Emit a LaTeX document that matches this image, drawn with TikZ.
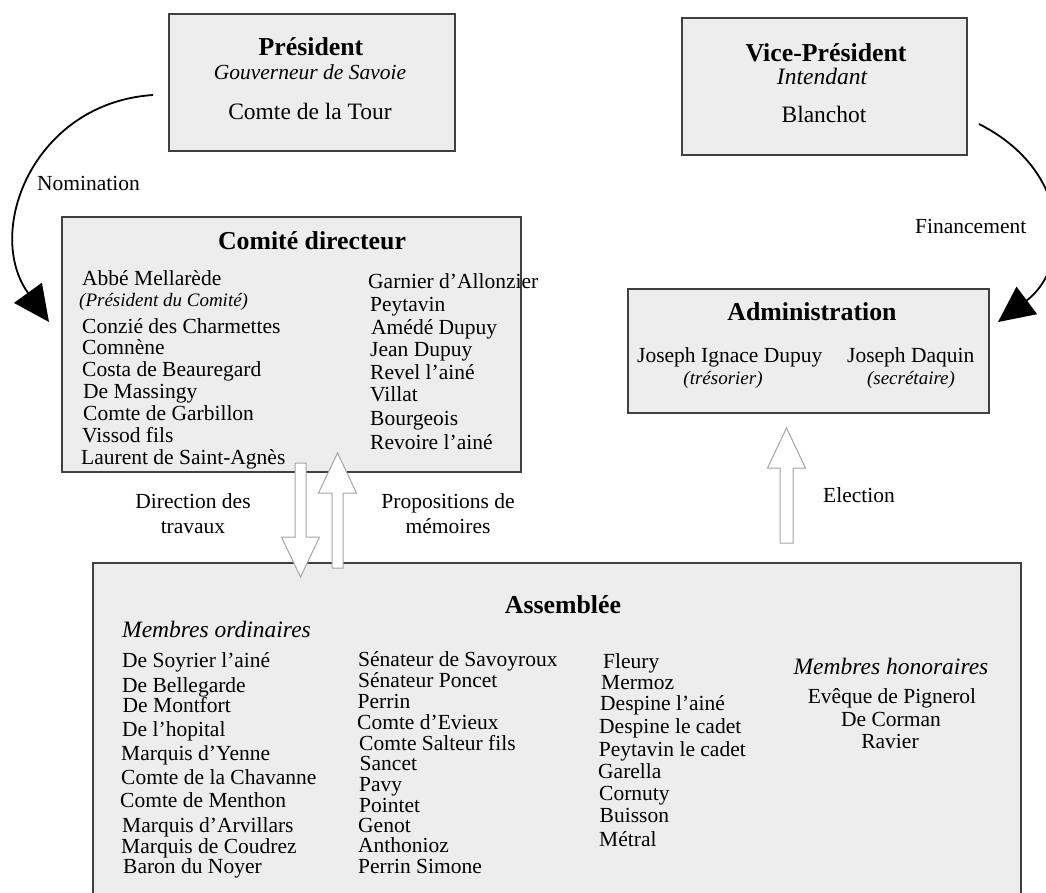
\documentclass[tikz,border=0pt]{standalone}
\usepackage{fontspec}
\setmainfont{Liberation Serif}
\usetikzlibrary{arrows.meta}
\definecolor{boxfill}{RGB}{237,237,237}
\definecolor{boxline}{RGB}{64,64,64}
\definecolor{arrgray}{RGB}{165,165,165}
\newcommand\fbody{\fontsize{21.5pt}{25pt}\selectfont}
\newcommand\fname{\fontsize{23.5pt}{27pt}\selectfont}
\newcommand\ftitle{\fontsize{25.8pt}{30pt}\selectfont\bfseries}
\newcommand\fsmall{\fontsize{19pt}{22pt}\selectfont\itshape}
\begin{document}
\begin{tikzpicture}[x=1pt,y=-1pt,
  box/.style={draw=boxline, fill=boxfill, line width=1.5pt, inner sep=0pt, outer sep=0pt},
  tl/.style={inner sep=0pt, anchor=base west, font=\fbody},
  tc/.style={inner sep=0pt, anchor=base, font=\fbody},
  ttl/.style={inner sep=0pt, anchor=base, font=\ftitle},
  tname/.style={inner sep=0pt, anchor=base, font=\fname},
  tsm/.style={inner sep=0pt, anchor=base, font=\fsmall},
  hollow/.style={draw=arrgray, fill=white, line width=1pt, line join=miter},
  curv/.style={draw=black, line width=1.8pt, -{Triangle[length=36pt,width=34pt]}}]
\useasboundingbox (0,0) rectangle (1046,892);
\clip (0,0) rectangle (1046,892);

% boxes
\node[box, minimum width=286pt, minimum height=137pt] (pres) at (312,82.5) {};
\node[box, minimum width=285pt, minimum height=137pt] (vice) at (824.5,86.5) {};
\node[box, minimum width=459pt, minimum height=255pt] (comite) at (291.5,344.5) {};
\node[box, minimum width=361pt, minimum height=124pt] (admin) at (808.5,351) {};
\node[box, minimum width=928pt, minimum height=337pt] (assem) at (557,731.5) {};

% President
\node[ttl] (presT) at (311,55) {Président};
\node[tc, font=\fbody\itshape] (presS) at (310,79) {Gouverneur de Savoie};
\node[tname] (presN) at (310,119.5) {Comte de la Tour};

% Vice-President
\node[ttl] (viceT) at (826,61) {Vice-Président};
\node[tname, font=\fname\itshape] (viceS) at (822,84) {Intendant};
\node[tname] (viceN) at (824,122) {Blanchot};

% Comite directeur
\node[ttl] (comT) at (312,249) {Comité directeur};
\node[tl] (c1) at (82,285) {Abbé Mellarède};
\node[tl, font=\fsmall] (c2) at (79,306) {(Président du Comité)};
\node[tl] (c3) at (82,333) {Conzié des Charmettes};
\node[tl] (c4) at (82,354.5) {Comnène};
\node[tl] (c5) at (82,376) {Costa de Beauregard};
\node[tl] (c6) at (83,398) {De Massingy};
\node[tl] (c7) at (83,420) {Comte de Garbillon};
\node[tl] (c8) at (82,442) {Vissod fils};
\node[tl] (c9) at (81,464) {Laurent de Saint-Agnès};
\node[tl] (d1) at (368,288) {Garnier d’Allonzier};
\node[tl] (d2) at (370,311) {Peytavin};
\node[tl] (d3) at (371,334) {Amédé Dupuy};
\node[tl] (d4) at (370,356) {Jean Dupuy};
\node[tl] (d5) at (370,379) {Revel l’ainé};
\node[tl] (d6) at (370,401) {Villat};
\node[tl] (d7) at (370,425) {Bourgeois};
\node[tl] (d8) at (370,449) {Revoire l’ainé};

% Administration
\node[ttl] (admT) at (812,320) {Administration};
\node[tl] (a1) at (637,362) {Joseph Ignace Dupuy};
\node[tsm] (a1s) at (723,384) {(trésorier)};
\node[tl] (a2) at (847,362) {Joseph Daquin};
\node[tsm] (a2s) at (911,384) {(secrétaire)};

% Assemblee
\node[ttl] (asT) at (563,613) {Assemblée};
\node[tl, font=\fname\itshape] (mo) at (122,637) {Membres ordinaires};
\node[tl] (m1) at (122,667) {De Soyrier l’ainé};
\node[tl] (m2) at (122,692) {De Bellegarde};
\node[tl] (m3) at (122.5,712) {De Montfort};
\node[tl] (m4) at (122,736) {De l’hopital};
\node[tl] (m5) at (121,760) {Marquis d’Yenne};
\node[tl] (m6) at (121,784) {Comte de la Chavanne};
\node[tl] (m7) at (120,807) {Comte de Menthon};
\node[tl] (m8) at (122,832) {Marquis d’Arvillars};
\node[tl] (m9) at (121,853) {Marquis de Coudrez};
\node[tl] (m10) at (123,873) {Baron du Noyer};
\node[tl] (n1) at (358,666) {Sénateur de Savoyroux};
\node[tl] (n2) at (358,687) {Sénateur Poncet};
\node[tl] (n3) at (357.5,708) {Perrin};
\node[tl] (n4) at (357,729) {Comte d’Evieux};
\node[tl] (n5) at (359,750) {Comte Salteur fils};
\node[tl] (n6) at (359.5,770.5) {Sancet};
\node[tl] (n7) at (359,791) {Pavy};
\node[tl] (n8) at (359,812) {Pointet};
\node[tl] (n9) at (358,832) {Genot};
\node[tl] (n10) at (358,852.5) {Anthonioz};
\node[tl] (n11) at (358,873) {Perrin Simone};
\node[tl] (p1) at (603,668) {Fleury};
\node[tl] (p2) at (601,689) {Mermoz};
\node[tl] (p3) at (600,710) {Despine l’ainé};
\node[tl] (p4) at (599,733) {Despine le cadet};
\node[tl] (p5) at (598.7,756) {Peytavin le cadet};
\node[tl] (p6) at (598,778) {Garella};
\node[tl] (p7) at (599,800) {Cornuty};
\node[tl] (p8) at (599.5,822) {Buisson};
\node[tl] (p9) at (599,846) {Métral};
\node[tname, font=\fname\itshape] (mh) at (891,674) {Membres honoraires};
\node[tc] (h1) at (892,703) {Evêque de Pignerol};
\node[tc] (h2) at (891,726) {De Corman};
\node[tc] (h3) at (890,748) {Ravier};

% labels
\node[tl] (lnom) at (37,190) {Nomination};
\node[tl] (lfin) at (915,233) {Financement};
\node[tc] (ldir1) at (193,508) {Direction des};
\node[tc] (ldir2) at (193,533) {travaux};
\node[tc] (lprop1) at (448,508) {Propositions de};
\node[tc] (lprop2) at (448,533) {mémoires};
\node[tl] (lel) at (823,502) {Election};

% hollow arrows
\draw[hollow] (295,463) -- (306,463) -- (306,537) -- (319.5,537) -- (300.5,577) -- (281.5,537) -- (295,537) -- cycle;
\draw[hollow] (332,568) -- (343,568) -- (343,493) -- (356.5,493) -- (337.5,453) -- (318.5,493) -- (332,493) -- cycle;
\draw[hollow] (780,543) -- (793,543) -- (793,468) -- (805.5,468) -- (786.5,428) -- (767.5,468) -- (780,468) -- cycle;

% curved arrows
\draw[curv] ([shift={(-16,12.5)}]pres.west) .. controls +(-120,8) and +(-65,-90) .. ([shift={(-13,-22.5)}]comite.west);
\draw[curv] ([shift={(12,37.5)}]vice.east) .. controls +(95,48) and +(72,-54) .. ([shift={(9,-29)}]admin.east);
\end{tikzpicture}
\end{document}
